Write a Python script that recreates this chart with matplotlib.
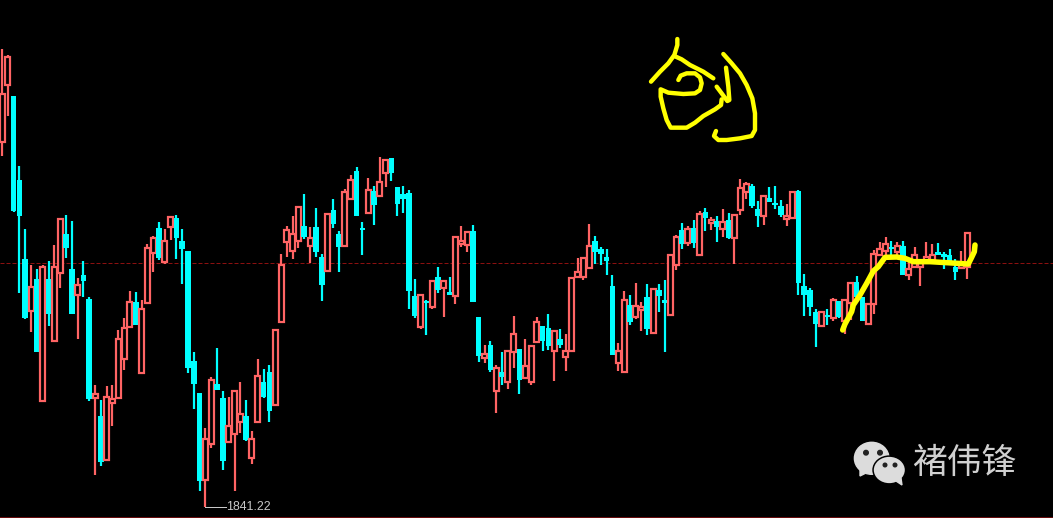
import numpy as np
import matplotlib
matplotlib.use('Agg')
import matplotlib.pyplot as plt
from matplotlib.patches import Ellipse, Polygon

# candles, all values are pixel rows (0 = top of the picture)
kinds = list('rrcccrcrcr' 'rccrccrcrr' 'rrrcrrrcrr' 'cccccrrccr'
             'rrcrrccrrr' 'rrcrccrccr' 'rccrcrrccc' 'ccrcrcrcrr'
             'rccrcrcrrc' 'rrrccrcrrr' 'rrcccc' 'rrcr' 'rcrccrrcrc'
             'rcrcrcrrrc' 'crcccrrccc' 'crcrcrrccr' 'rrrcrcrrrr' 'rccccrr')
body_top = [94, 57, 96, 180, 259, 287, 279, 267, 279, 267,
            219, 234, 269, 285, 275, 299, 394, 416, 397, 399,
            339, 328, 302, 302, 309, 248, 238, 228, 241, 217,
            218, 241, 251, 361, 393, 439, 380, 384, 398, 426,
            391, 414, 416, 439, 376, 382, 372, 330, 265, 230,
            234, 207, 226, 238, 227, 257, 214, 210, 234, 192,
            180, 171, 228, 190, 191, 182, 160, 158, 187, 194,
            193, 296, 295, 301, 281, 277, 281, 292, 237, 241,
            232, 231, 317, 354, 345, 368, 372, 351, 334, 349,
            366, 346, 322, 326, 328, 331, 339, 351, 278, 272,
            258, 246, 241, 249, 257, 286, 351, 300, 305, 306,
            307, 297, 289, 290, 300, 255, 237, 230, 229, 228,
            214, 212, 220, 221, 222, 220, 215, 188, 184, 186,
            209, 196, 198, 203, 206, 216, 192, 191, 286, 290,
            312, 312, 315, 300, 301, 300, 283, 282, 297, 304,
            254, 249, 244, 247, 246, 246, 269, 255, 263, 257,
            255, 252, 254, 255, 267, 263, 233]
body_bot = [142, 85, 211, 216, 318, 311, 352, 401, 314, 341,
            273, 248, 314, 295, 281, 399, 398, 462, 460, 403,
            398, 359, 327, 325, 373, 303, 253, 258, 262, 227,
            238, 249, 368, 384, 481, 480, 444, 390, 461, 442,
            434, 422, 440, 458, 422, 397, 411, 405, 322, 242,
            251, 241, 237, 246, 252, 285, 271, 224, 247, 246,
            199, 216, 230, 213, 205, 196, 173, 173, 204, 199,
            291, 316, 327, 303, 307, 290, 288, 295, 296, 244,
            245, 302, 356, 358, 370, 391, 377, 382, 352, 380,
            378, 382, 342, 341, 346, 351, 345, 357, 351, 277,
            277, 268, 252, 254, 261, 355, 363, 372, 322, 317,
            310, 329, 333, 296, 303, 315, 265, 244, 243, 243,
            255, 218, 223, 227, 229, 238, 238, 210, 192, 206,
            216, 216, 202, 205, 215, 219, 218, 283, 295, 307,
            324, 326, 317, 318, 317, 321, 303, 297, 321, 324,
            304, 255, 251, 249, 252, 275, 275, 267, 267, 262,
            260, 255, 257, 262, 272, 268, 267]
highs = [49, 55, 96, 166, 229, 265, 269, 265, 261, 245,
         218, 215, 221, 278, 261, 297, 385, 400, 386, 385,
         330, 318, 291, 292, 300, 244, 236, 222, 229, 217,
         215, 229, 251, 352, 393, 428, 377, 348, 391, 397,
         391, 382, 400, 431, 359, 369, 365, 330, 254, 226,
         216, 207, 194, 227, 208, 254, 214, 199, 231, 189,
         175, 167, 222, 178, 186, 157, 160, 158, 187, 186,
         190, 279, 295, 300, 281, 267, 280, 277, 237, 226,
         231, 225, 317, 345, 341, 365, 352, 351, 316, 349,
         339, 346, 317, 326, 314, 331, 329, 334, 278, 258,
         258, 224, 236, 247, 249, 275, 343, 291, 295, 283,
         302, 284, 289, 284, 280, 255, 235, 223, 226, 220,
         211, 208, 217, 216, 209, 213, 215, 179, 182, 184,
         201, 196, 187, 186, 200, 204, 192, 190, 274, 288,
         309, 312, 309, 298, 301, 300, 283, 276, 297, 304,
         250, 242, 237, 241, 242, 241, 262, 247, 263, 242,
         244, 243, 252, 249, 259, 251, 233]
lows = [156, 116, 212, 293, 319, 332, 352, 401, 326, 341,
        288, 258, 314, 339, 297, 401, 475, 466, 460, 426,
        398, 370, 327, 325, 373, 303, 272, 260, 264, 240,
        259, 284, 373, 409, 491, 507, 448, 390, 470, 442,
        491, 433, 441, 464, 422, 398, 422, 405, 322, 257,
        259, 248, 239, 263, 257, 301, 271, 228, 272, 246,
        200, 216, 255, 213, 225, 196, 187, 181, 216, 213,
        309, 318, 329, 335, 309, 293, 317, 295, 304, 247,
        252, 302, 362, 363, 372, 413, 385, 389, 368, 394,
        378, 385, 342, 351, 350, 381, 348, 371, 352, 277,
        280, 268, 264, 265, 275, 355, 371, 372, 325, 319,
        331, 335, 333, 312, 352, 315, 270, 249, 246, 248,
        256, 231, 230, 242, 237, 239, 264, 215, 199, 208,
        227, 225, 202, 209, 217, 226, 218, 295, 316, 316,
        347, 327, 325, 321, 318, 334, 320, 297, 321, 324,
        314, 255, 256, 256, 256, 275, 280, 267, 286, 262,
        260, 255, 269, 262, 280, 268, 279]

low_label = '1841.22'
low_row = 507
mid_row = 263

# hand drawn yellow strokes, crop coords (3x zoom) of the top glyph
glyph_strokes = [
    [(112, 27), (112, 45), (103, 75), (85, 100), (60, 125), (33, 155)],
    [(103, 78), (125, 88), (150, 105), (190, 125), (220, 145)],
    [(115, 150), (122, 137), (140, 130), (165, 130), (180, 142), (185, 160), (180, 180),
     (165, 190), (130, 192), (85, 188), (62, 178), (62, 200), (70, 235), (80, 270),
     (92, 293), (140, 293), (165, 278), (190, 258), (225, 238), (243, 225), (245, 208)],
    [(230, 170), (245, 190), (262, 213), (268, 210), (265, 170), (258, 113)],
    [(250, 72), (275, 100), (300, 130), (320, 165), (337, 205), (345, 250), (345, 300),
     (335, 318), (300, 325), (260, 330), (235, 330), (222, 318), (228, 303)],
]
trend_stroke = [(158, 480), (165, 462), (185, 425), (190, 405), (210, 375), (230, 340),
                (250, 303), (265, 290), (285, 262), (320, 261), (345, 265), (370, 275),
                (420, 275), (470, 278), (535, 282), (545, 262), (553, 245), (555, 225)]

RED = '#ff6464'
CYAN = '#00ffff'
YELLOW = '#ffff00'
GREY = '#dcdcdc'

fig = plt.figure(figsize=(10.53, 5.18), dpi=100, facecolor='black')
ax = fig.add_axes([0, 0, 1, 1], facecolor='black')
ax.set_xlim(0, 1053)
ax.set_ylim(518, 0)
ax.axis('off')

px = 0.72  # one pixel in points at dpi 100

ax.plot([0, 1053], [mid_row, mid_row], color='#8b1010', lw=1 * px, ls=(0, (4, 2)), zorder=1)
ax.plot([0, 1053], [517.5, 517.5], color='#8b1010', lw=1.5 * px, zorder=1)

# candles, x from first to last candle in the picture
xs = np.linspace(2, 967, len(kinds))
for i, x in enumerate(xs):
    z = 2 + i * 0.001
    if kinds[i] == 'r':
        ax.vlines(x, highs[i], lows[i], color=RED, lw=2.2 * px, zorder=z)
        ax.bar(x, body_bot[i] - body_top[i], bottom=body_top[i], width=5, facecolor='black',
               edgecolor=RED, linewidth=2.2 * px, zorder=z)
    else:
        ax.vlines(x, highs[i], lows[i], color=CYAN, lw=2.2 * px, zorder=z)
        ax.bar(x, body_bot[i] - body_top[i], bottom=body_top[i], width=5.6, color=CYAN,
               linewidth=0, zorder=z)

# lowest price marker
ax.plot([xs[35], 226], [low_row, low_row], color='#c8c8c8', lw=1 * px, zorder=3)
ax.text(226, low_row + 0.5, low_label, color='#c8c8c8', fontsize=8.9, family='Liberation Sans',
        va='center', ha='left', zorder=3)

for stroke in glyph_strokes:
    pts = np.array(stroke)
    ax.plot(640 + pts[:, 0] / 3, 30 + pts[:, 1] / 3, color=YELLOW, lw=4.4 * px,
            solid_capstyle='round', solid_joinstyle='round', zorder=5)
pts = np.array(trend_stroke)
ax.plot(790 + pts[:, 0] / 3, 170 + pts[:, 1] / 3, color=YELLOW, lw=5.5 * px,
        solid_capstyle='round', solid_joinstyle='round', zorder=5)

# wechat watermark
ax.add_patch(Ellipse((871.7, 458.3), 34.6, 32, color=GREY, zorder=6))
ax.add_patch(Polygon([(860, 470), (860, 476), (870, 471)], color=GREY, zorder=6))
ax.add_patch(Ellipse((889.3, 470), 32.5, 27.8, facecolor=GREY, edgecolor='black', lw=1.5 * px, zorder=7))
ax.add_patch(Polygon([(896, 481), (902, 485), (901, 478)], color=GREY, zorder=7))
for ex, ey, er in [(866, 452.7, 2.3), (880, 452.7, 2.3), (885, 465, 1.8), (895, 465, 1.8)]:
    ax.add_patch(Ellipse((ex, ey), er * 2, er * 2, color='#222222', zorder=8))
ax.text(912, 463, '褚伟锋', color='#d0d0d0', fontsize=25, family=['Noto Sans CJK SC', 'DejaVu Sans'],
        va='center', ha='left', zorder=6)

fig.savefig('out.png', dpi=100, facecolor='black')
